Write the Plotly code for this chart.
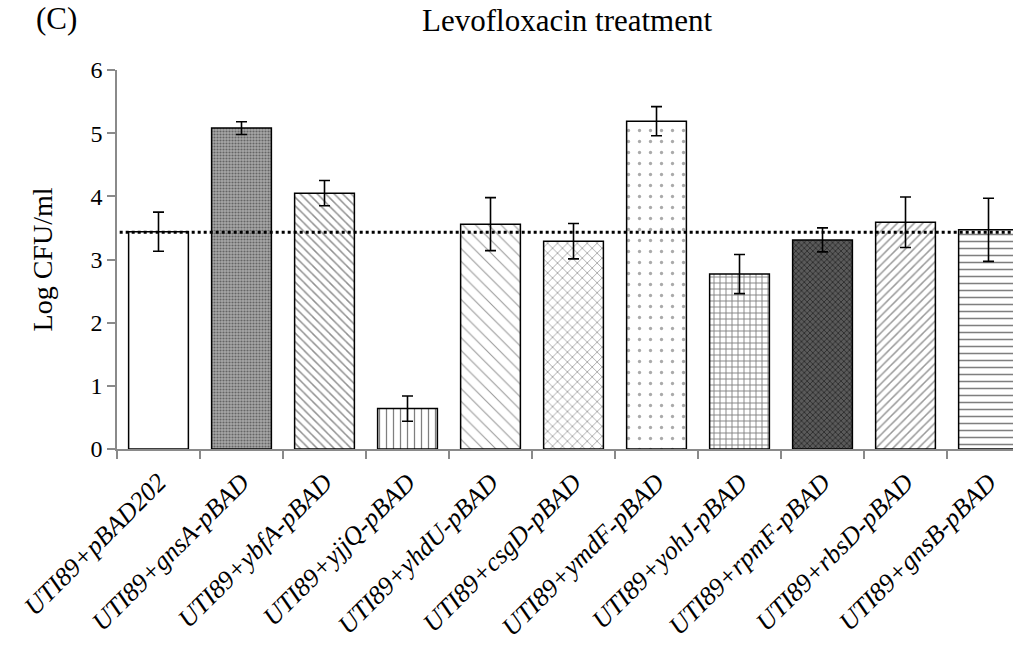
import plotly.graph_objects as go

categories = ["UTI89+pBAD202", "UTI89+gnsA-pBAD", "UTI89+ybfA-pBAD", "UTI89+yjjQ-pBAD",
              "UTI89+yhdU-pBAD", "UTI89+csgD-pBAD", "UTI89+ymdF-pBAD", "UTI89+yohJ-pBAD",
              "UTI89+rpmF-pBAD", "UTI89+rbsD-pBAD", "UTI89+gnsB-pBAD"]
values = [3.44, 5.08, 4.05, 0.64, 3.56, 3.29, 5.19, 2.77, 3.31, 3.59, 3.47]
errors = [0.31, 0.10, 0.20, 0.20, 0.42, 0.28, 0.23, 0.31, 0.19, 0.40, 0.50]
baseline = 3.43

shapes = ["", ".", "\\", "|", "\\", "x", ".", "+", "x", "/", "-"]
sizes = [8, 3, 6, 7, 9, 7, 11, 6, 4, 6, 7]
fg = ["black", "#222222", "#222222", "black", "#333333", "#222222", "#555555", "black", "black", "#333333", "black"]
bg = ["white", "#a8a8a8", "white", "white", "white", "white", "white", "white", "#5a5a5a", "white", "white"]
solid = [0.2, 0.4, 0.25, 0.18, 0.12, 0.2, 0.07, 0.28, 0.4, 0.25, 0.22]

FONT = "Liberation Serif, Times New Roman, Times, serif"

fig = go.Figure()
for i, cat in enumerate(categories):
    fig.add_trace(go.Bar(
        x=[cat], y=[values[i]],
        width=0.72,
        marker=dict(color=bg[i], line=dict(color="black", width=1.5),
                    pattern=dict(shape=shapes[i], size=sizes[i], fgcolor=fg[i],
                                 solidity=solid[i], fillmode="overlay")),
        error_y=dict(type="data", array=[errors[i]], color="black", thickness=1.6, width=5.5),
        showlegend=False,
    ))

fig.add_shape(type="line", xref="paper", x0=0.003, x1=1, yref="y", y0=baseline, y1=baseline,
              line=dict(color="black", width=3, dash="dot"))

fig.add_annotation(text="(C)", xref="paper", yref="paper", x=-0.093, y=1.135, xanchor="left",
                   yanchor="middle", showarrow=False,
                   font=dict(family=FONT, size=31, color="black"))
fig.add_annotation(text="Levofloxacin treatment", xref="paper", yref="paper", x=0.502, y=1.13,
                   xanchor="center", yanchor="middle", showarrow=False,
                   font=dict(family=FONT, size=31, color="black"))

fig.update_layout(
    width=1013, height=646,
    margin=dict(l=117, r=0, t=70, b=197),
    plot_bgcolor="white", paper_bgcolor="white",
    font=dict(family=FONT, color="black"),
    barmode="overlay",
)
fig.update_xaxes(
    type="category", categoryorder="array", categoryarray=categories, range=[-0.5, 10.295],
    showline=True, linecolor="#8a8a8a", linewidth=1.5,
    ticks="outside", tickson="boundaries", ticklen=8, tickcolor="#8a8a8a", tickwidth=1.5,
    ticklabelstandoff=6,
    tickangle=-45, tickfont=dict(family=FONT, size=26, color="black", style="italic"),
    showgrid=False,
)
fig.update_yaxes(
    range=[0, 6], dtick=1,
    showline=True, linecolor="#8a8a8a", linewidth=1.5,
    ticks="outside", ticklen=8, tickcolor="#8a8a8a", tickwidth=1.5,
    tickfont=dict(family=FONT, size=24, color="black"),
    showgrid=False, zeroline=False,
    title=dict(text="Log CFU/ml", font=dict(family=FONT, size=28, color="black"),
               standoff=30),
)

fig.write_html("out.html")
